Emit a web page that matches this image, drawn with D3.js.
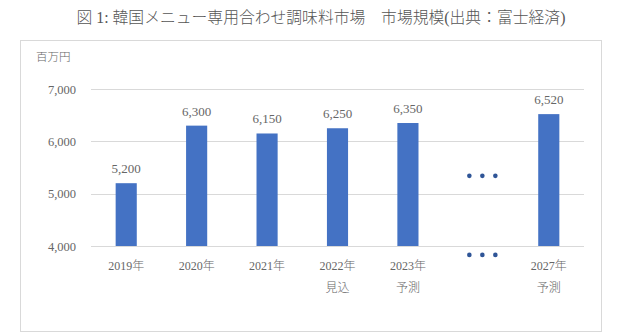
<!DOCTYPE html>
<html>
<head>
<meta charset="utf-8">
<script src="https://cdn.jsdelivr.net/npm/d3@7"></script>
<style>
  html, body { margin: 0; padding: 0; background: #fff; }
  svg { display: block; }
  text { font-family: "Liberation Serif", "DejaVu Serif", "Noto Sans CJK JP", serif; font-weight: 300; }
</style>
</head>
<body>
<svg id="chart" width="642" height="336"></svg>
<script>
// Market size, millions of yen. The sixth slot is the skipped years (shown as dots).
const categories = ["2019", "2020", "2021", "2022", "2023", "gap", "2027"];
const yearLabels = ["2019年", "2020年", "2021年", "2022年", "2023年", "", "2027年"];
const subLabels  = ["", "", "", "見込", "予測", "", "予測"];
const values     = [5200, 6300, 6150, 6250, 6350, null, 6520];
const yTicks     = [4000, 5000, 6000, 7000];
const dotLevels  = [5340, 3830];   // where the two rows of ellipsis dots sit

const svg = d3.select("#chart");
const textColor = "#666666";

// Title
svg.append("text")
  .attr("x", 321).attr("y", 23)
  .attr("text-anchor", "middle")
  .attr("font-size", 15.8)
  .attr("fill", "#555555")
  .text("図 1: 韓国メニュー専用合わせ調味料市場　市場規模(出典：富士経済)");

// Chart frame
svg.append("rect")
  .attr("x", 20.5).attr("y", 40.5)
  .attr("width", 581).attr("height", 291)
  .attr("fill", "none").attr("stroke", "#d9d9d9");

const x = d3.scaleBand().domain(categories).range([91, 584]).paddingInner(0.7).paddingOuter(0.35);
const y = d3.scaleLinear().domain([4000, 7000]).range([246, 89]);

// Gridlines
svg.append("g").selectAll("line").data(yTicks).join("line")
  .attr("x1", 91).attr("x2", 584)
  .attr("y1", d => Math.round(y(d)) + 0.5).attr("y2", d => Math.round(y(d)) + 0.5)
  .attr("stroke", "#d9d9d9");

// Y axis labels
const yAxis = d3.axisLeft(y).tickValues(yTicks).tickFormat(d3.format(",")).tickSize(0).tickPadding(0);
const yg = svg.append("g").attr("transform", "translate(76,0)").call(yAxis);
yg.select(".domain").remove();
yg.selectAll("text").attr("font-size", 12.5).attr("fill", textColor)
  .attr("font-family", "'Liberation Serif', serif");

// Unit label
svg.append("text")
  .attr("x", 36).attr("y", 61)
  .attr("font-size", 11.5).attr("fill", textColor)
  .text("百万円");

const barData = categories.map((c, i) => ({ c, v: values[i] })).filter(d => d.v != null);

// Bars
svg.append("g").selectAll("rect").data(barData).join("rect")
  .attr("x", d => x(d.c))
  .attr("width", x.bandwidth())
  .attr("y", d => y(d.v))
  .attr("height", d => y(4000) - y(d.v))
  .attr("fill", "#4472C4");

// Value labels
svg.append("g").selectAll("text").data(barData).join("text")
  .attr("x", d => x(d.c) + x.bandwidth() / 2)
  .attr("y", d => y(d.v) - 10)
  .attr("text-anchor", "middle")
  .attr("font-size", 13).attr("fill", textColor)
  .text(d => d3.format(",")(d.v));

// X axis labels (two lines)
const xl = svg.append("g");
categories.forEach((c, i) => {
  const cx = x(c) + x.bandwidth() / 2;
  if (yearLabels[i]) {
    xl.append("text").attr("x", cx).attr("y", 270)
      .attr("text-anchor", "middle").attr("font-size", 12).attr("fill", textColor)
      .text(yearLabels[i]);
  }
  if (subLabels[i]) {
    xl.append("text").attr("x", cx).attr("y", 292)
      .attr("text-anchor", "middle").attr("font-size", 12).attr("fill", textColor)
      .text(subLabels[i]);
  }
});

// Ellipsis dots for the omitted years
const gapX = x("gap") + x.bandwidth() / 2 + 4;
const dots = [];
dotLevels.forEach(v => [-13, 0, 13].forEach(dx => dots.push({ dx, v })));
svg.append("g").selectAll("circle").data(dots).join("circle")
  .attr("cx", d => gapX + d.dx)
  .attr("cy", d => y(d.v))
  .attr("r", 2.3)
  .attr("fill", "#2F5597");
</script>
</body>
</html>
